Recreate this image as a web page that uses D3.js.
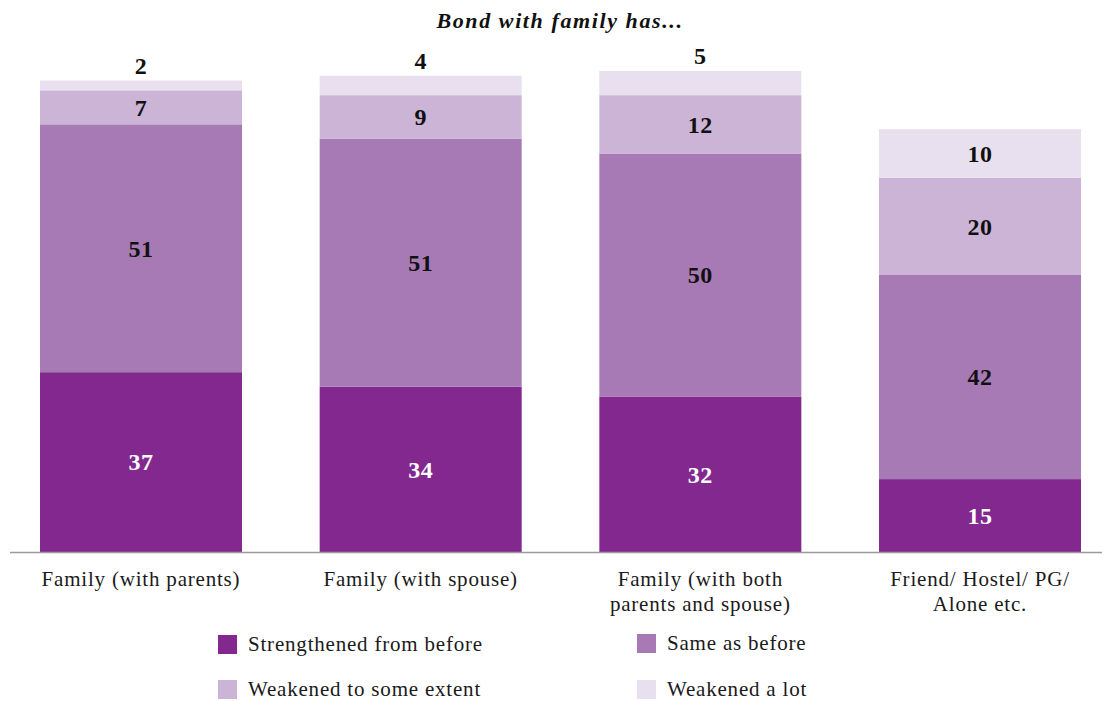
<!DOCTYPE html>
<html>
<head>
<meta charset="utf-8">
<script src="https://cdn.jsdelivr.net/npm/d3@7"></script>
<style>
  html, body { margin: 0; padding: 0; background: #fff; }
  svg { display: block; font-family: "Liberation Serif", "DejaVu Serif", serif; }
</style>
</head>
<body>
<svg id="chart" width="1102" height="701"></svg>
<script>
// Living arrangement categories (each may wrap onto two lines)
const categories = [
  ["Family (with parents)"],
  ["Family (with spouse)"],
  ["Family (with both", "parents and spouse)"],
  ["Friend/ Hostel/ PG/", "Alone etc."]
];

// Response series, bottom to top of each stack
const seriesNames = [
  "Strengthened from before",
  "Same as before",
  "Weakened to some extent",
  "Weakened a lot"
];

// Percent of respondents per category, one array per series
const strengthened = [37, 34, 32, 15];
const sameAsBefore = [51, 51, 50, 42];
const weakenedSome = [7, 9, 12, 20];
const weakenedLot  = [2, 4, 5, 10];

const title = "Bond with family has...";

const seriesValues = [strengthened, sameAsBefore, weakenedSome, weakenedLot];
const colors = ["#82288f", "#a779b5", "#ccb4d7", "#e8e0ef"];
const labelColors = ["#ffffff", "#111111", "#111111", "#111111"];

const svg = d3.select("#chart");

const baseY = 552;
const x = d3.scaleBand()
  .domain(d3.range(categories.length))
  .range([40, 1081])
  .paddingInner(0.2777)
  .paddingOuter(0);

const y = d3.scaleLinear().domain([0, 100]).range([baseY, 66]);

// Build stack rows
const rows = categories.map((c, i) => {
  const r = { i };
  seriesNames.forEach((s, k) => { r[s] = seriesValues[k][i]; });
  return r;
});
const stacked = d3.stack().keys(seriesNames)(rows);

// Bars
const layers = svg.append("g").selectAll("g")
  .data(stacked)
  .join("g")
  .attr("fill", (d, k) => colors[k]);

layers.selectAll("rect")
  .data(d => d)
  .join("rect")
  .attr("x", d => x(d.data.i))
  .attr("width", x.bandwidth())
  .attr("y", d => y(d[1]))
  .attr("height", d => y(d[0]) - y(d[1]));

// Baseline
svg.append("line")
  .attr("x1", 10).attr("x2", 1102)
  .attr("y1", baseY + 0.5).attr("y2", baseY + 0.5)
  .attr("stroke", "#9a9a9a")
  .attr("stroke-width", 1.5);

// Value labels: small top segments sit just above the bar
const labelG = svg.append("g")
  .attr("font-size", 24)
  .attr("font-weight", "bold")
  .attr("letter-spacing", 0.5)
  .attr("text-anchor", "middle");

stacked.forEach((layer, k) => {
  layer.forEach(d => {
    const v = d[1] - d[0];
    const isTop = k === stacked.length - 1;
    const outside = isTop && v < 6;
    const cy = outside ? y(d[1]) - 15 : (y(d[0]) + y(d[1])) / 2;
    labelG.append("text")
      .attr("x", x(d.data.i) + x.bandwidth() / 2)
      .attr("y", cy)
      .attr("dy", "0.35em")
      .attr("fill", outside ? "#111111" : labelColors[k])
      .text(v);
  });
});

// Category labels
const catG = svg.append("g")
  .attr("font-size", 21)
  .attr("letter-spacing", 0.8)
  .attr("fill", "#1a1a1a")
  .attr("text-anchor", "middle");

categories.forEach((lines, i) => {
  const cx = x(i) + x.bandwidth() / 2;
  const t = catG.append("text")
    .attr("x", cx)
    .attr("y", 586);
  lines.forEach((ln, j) => {
    t.append("tspan")
      .attr("x", cx)
      .attr("dy", j === 0 ? 0 : 25)
      .text(ln);
  });
});

// Title
svg.append("text")
  .attr("x", 560)
  .attr("y", 28)
  .attr("text-anchor", "middle")
  .attr("font-size", 22)
  .attr("font-weight", "bold")
  .attr("font-style", "italic")
  .attr("letter-spacing", 1.6)
  .attr("fill", "#111")
  .text(title);

// Legend: two columns, two rows
const legendPos = [[218, 635], [637, 634], [218, 680], [637, 680]];
const legend = svg.append("g")
  .attr("font-size", 21)
  .attr("letter-spacing", 0.8)
  .attr("fill", "#1a1a1a");
seriesNames.forEach((name, k) => {
  const [lx, ly] = legendPos[k];
  legend.append("rect")
    .attr("x", lx).attr("y", ly)
    .attr("width", 19).attr("height", 19)
    .attr("fill", colors[k]);
  legend.append("text")
    .attr("x", lx + 30)
    .attr("y", ly + 16)
    .text(name);
});
</script>
</body>
</html>
